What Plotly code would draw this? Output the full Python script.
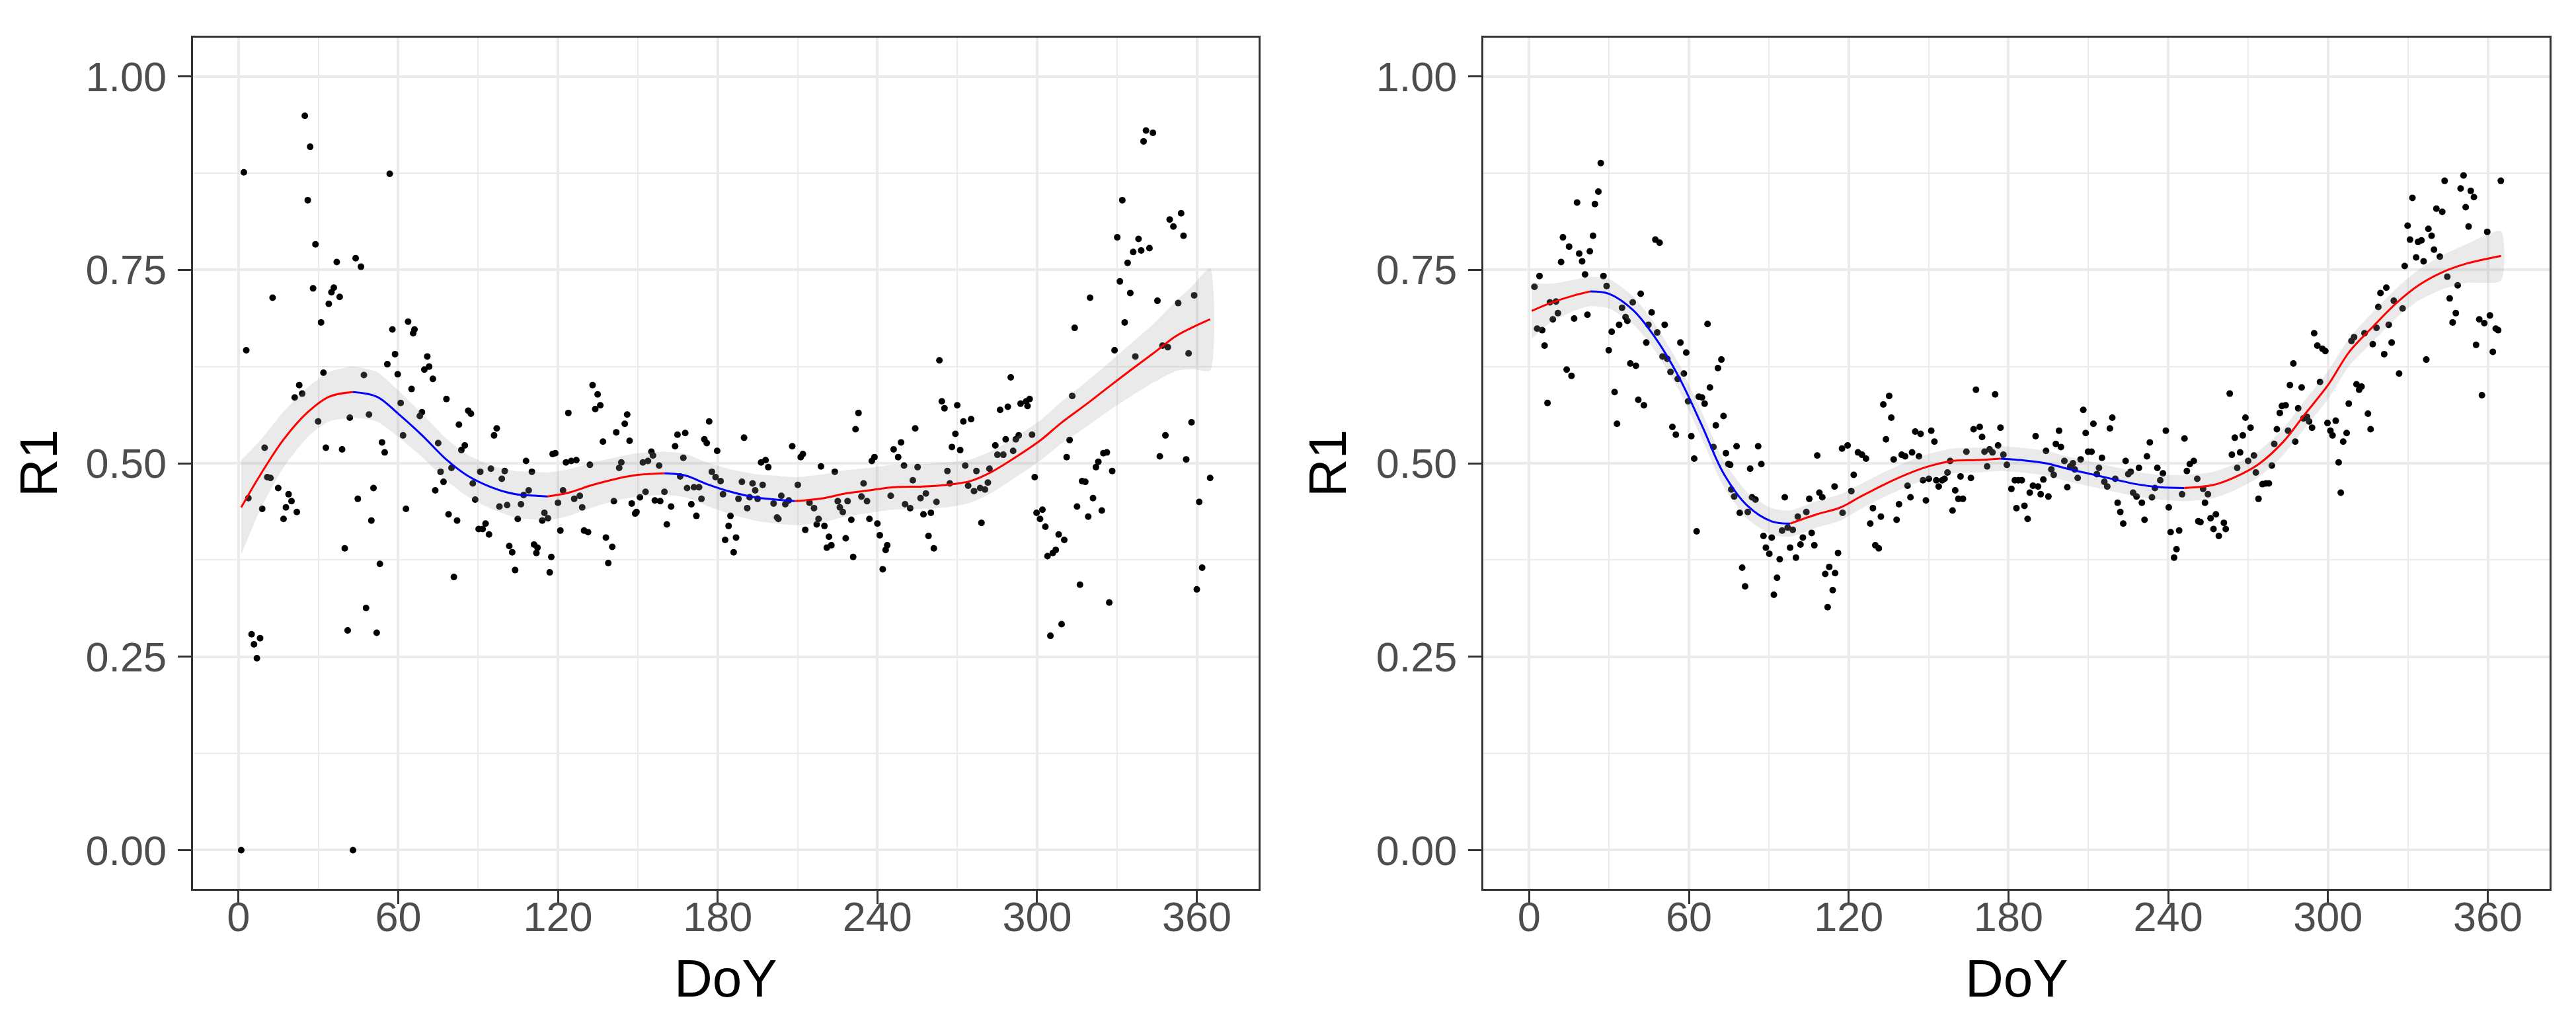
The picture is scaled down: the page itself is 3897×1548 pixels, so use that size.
import plotly.graph_objects as go

# ---- left panel: daily R1 values ----
left_doy = [
    1.0, 43.0, 24.9, 26.9, 2.0, 56.8, 26.0, 28.9, 36.9, 44.0,
    46.0, 28.0, 12.8, 35.8, 34.9, 38.0, 33.9, 31.0, 2.9, 31.9,
    57.8, 63.7, 66.1, 65.6, 58.8, 55.9, 59.8, 70.9, 71.6, 69.8,
    73.0, 47.1, 22.8, 23.9, 21.1, 65.0, 78.1, 60.9, 68.9, 68.1,
    86.3, 87.3, 41.8, 49.0, 29.9, 82.8, 97.0, 96.0, 61.8, 9.8,
    32.8, 38.9, 53.9, 54.9, 75.0, 85.0, 83.7, 75.9, 80.0, 77.0,
    73.9, 10.8, 12.0, 3.7, 8.9, 14.9, 18.8, 19.9, 17.8, 16.9,
    21.9, 50.7, 44.8, 49.9, 62.9, 78.9, 82.1, 90.8, 94.8, 100.0,
    98.9, 88.0, 88.9, 98.0, 100.9, 108.0, 110.2, 109.0, 107.1, 106.1,
    104.9, 114.9, 114.1, 116.2, 118.0, 92.8, 90.2, 91.7, 94.1, 101.7,
    102.8, 103.9, 111.0, 112.3, 111.9, 117.5, 116.9, 80.9, 39.9, 53.1,
    47.9, 41.0, 51.9, 4.9, 8.1, 5.8, 6.9,
    133.0, 134.9, 135.9, 134.0, 123.9, 146.0, 145.1, 141.9, 146.9, 136.9,
    119.0, 123.0, 125.0, 126.9, 132.0, 143.8, 143.0, 121.9, 120.0, 126.1,
    128.2, 129.1, 120.9, 129.8, 131.3, 141.0, 138.0, 140.4, 138.9, 147.7,
    149.5, 149.0, 150.8, 152.9, 151.9, 153.8, 155.1, 155.7, 158.0, 156.4,
    158.4, 160.0, 160.9, 162.5, 164.0, 164.9, 167.8, 167.1, 165.9, 168.5,
    171.1, 173.0, 170.1, 172.0, 173.9, 175.0, 175.9, 176.8, 179.8, 177.8,
    179.2, 181.1, 182.0, 184.8, 184.1, 182.8, 186.9, 186.0, 187.8, 189.1,
    189.9, 191.1, 192.0, 193.1, 194.1, 195.0, 196.9, 196.3, 198.0, 199.0,
    201.0, 202.3, 202.8, 203.9, 205.4, 206.7, 208.0, 210.1, 211.2, 212.0,
    212.9, 214.5, 216.2, 217.2, 217.9, 218.8, 220.1, 221.8, 222.7, 221.0,
    224.0, 225.1, 225.9, 227.0, 228.8, 228.1, 230.2, 230.9, 231.8, 232.9,
    234.8, 234.0, 236.1, 237.0, 237.9, 238.9, 240.0, 240.9, 243.1, 243.7,
    242.0, 245.0, 246.1, 247.8, 248.9, 250.0, 250.4,
    254.2, 255.1, 253.3, 252.3, 256.2, 258.2, 257.3, 260.1, 262.2, 259.2,
    261.2, 263.3, 264.2, 265.2, 270.0, 272.3, 275.2, 269.3, 268.0, 271.1,
    266.3, 267.2, 273.0, 274.1, 276.3, 277.2, 278.6, 280.4, 281.5, 282.1,
    279.1, 284.3, 285.1, 286.1, 289.0, 287.3, 288.2, 290.1, 291.0, 292.0,
    293.1, 293.8, 295.9, 297.2, 296.4, 298.1, 299.1, 299.8, 302.0, 301.1,
    303.1, 303.9, 305.9, 307.0, 308.1, 310.2, 305.0, 309.2, 311.1, 312.2,
    313.2, 314.1, 315.0, 316.9, 318.1, 319.2, 316.1, 319.9, 321.0, 322.1,
    323.0, 324.3, 324.9, 326.2, 327.1, 328.2, 329.1, 330.1, 331.1, 332.0,
    332.9, 334.0, 335.0, 336.1, 336.9, 338.1, 339.1, 340.0, 340.9, 342.2,
    343.5, 345.2, 346.1, 347.1, 348.2, 349.1, 349.8, 351.2, 353.0, 354.1,
    355.0, 356.0, 356.9, 358.0, 359.0, 360.0, 360.9, 362.0, 365.0,
]
left_r1 = [
    0.0, 0.0, .949, .909, .876, .874, .840, .783, .760, .765,
    .754, .726, .714, .727, .721, .715, .706, .682, .646, .617,
    .673, .683, .673, .668, .641, .628, .615, .638, .625, .621,
    .609, .614, .601, .590, .585, .596, .583, .578, .566, .561,
    .568, .564, .559, .563, .554, .550, .545, .536, .536, .520,
    .520, .518, .527, .514, .526, .523, .517, .489, .494, .476,
    .465, .482, .481, .455, .441, .468, .460, .451, .443, .428,
    .437, .468, .454, .426, .441, .434, .426, .489, .493, .490,
    .480, .474, .453, .444, .446, .503, .489, .465, .459, .447,
    .428, .436, .426, .429, .512, .422, .415, .415, .408, .393,
    .385, .362, .395, .391, .384, .379, .359, .353, .390, .370,
    .313, .284, .281, .279, .274, .266, .248,
    .601, .589, .575, .570, .565, .563, .551, .540, .529, .528,
    .513, .501, .503, .504, .498, .501, .494, .465, .449, .454,
    .458, .443, .413, .413, .411, .451, .404, .392, .371, .448,
    .437, .435, .456, .463, .501, .503, .515, .510, .497, .452,
    .451, .463, .421, .444, .522, .537, .539, .507, .483, .468,
    .469, .469, .447, .432, .454, .531, .526, .554, .516, .489,
    .482, .477, .460, .432, .419, .401, .404, .385, .454, .476,
    .533, .442, .456, .474, .465, .454, .472, .501, .504, .495,
    .448, .430, .428, .458, .447, .452, .522, .472, .508, .512,
    .414, .449, .442, .421, .428, .496, .419, .405, .394, .391,
    .489, .451, .443, .437, .451, .403, .427, .379, .544, .565,
    .474, .457, .451, .428, .503, .508, .422, .407, .388, .394,
    .363, .458, .518, .508, .527, .497, .447,
    .545, .495, .478, .442, .455, .461, .434, .436, .450, .406,
    .390, .633, .580, .571, .575, .554, .557, .538, .521, .517,
    .490, .474, .497, .471, .464, .490, .468, .466, .475, .493,
    .423, .523, .511, .569, .573, .511, .531, .611, .516, .531,
    .536, .577, .580, .583, .574, .537, .482, .436, .440, .428,
    .418, .380, .384, .388, .408, .401, .277, .292, .508, .530,
    .587, .675, .444, .477, .476, .431, .343, .714, .455, .495,
    .502, .439, .513, .514, .320, .490, .646, .792, .735, .840,
    .682, .759, .720, .773, .638, .790, .775, .916, .930, .778,
    .927, .710, .509, .652, .536, .650, .815, .806, .707, .823,
    .794, .505, .642, .553, .717, .337, .450, .365, .481,
]

# ---- right panel ----
right_doy = [
    26.9, 26.0, 18.0, 24.7, 12.7, 24.0, 15.0, 18.8, 22.8, 12.0,
    19.9, 21.0, 3.9, 27.9, 2.0, 29.1, 10.1, 7.8, 10.8, 8.9,
    16.9, 21.9, 3.0, 4.9, 5.8, 14.1, 15.9, 6.9, 41.9, 38.9,
    34.9, 36.2, 36.9, 33.8, 31.0, 29.9, 46.0, 44.8, 48.1, 50.9,
    44.0, 47.4, 49.0, 38.0, 40.1, 32.1, 41.0, 43.1, 33.0, 50.1,
    51.9, 56.8, 59.0, 53.1, 55.8, 58.1, 67.0, 72.2, 70.9, 67.9,
    63.7, 64.9, 65.9, 59.7, 73.0, 70.1, 53.8, 55.1, 60.9, 62.0,
    69.2, 73.9, 77.9, 86.0, 74.8, 75.5, 87.2, 83.0, 75.9, 77.0,
    83.7, 85.0, 79.1, 82.1, 62.9, 80.0, 81.1, 88.0, 91.1, 88.9,
    90.2, 94.1, 93.1, 91.9, 96.0, 95.0, 97.1, 99.0, 100.9, 104.1,
    105.2, 102.8, 101.9, 98.0, 100.2, 106.1, 107.1, 108.2, 109.0, 110.1,
    114.7, 117.5, 117.7, 116.0, 112.7, 111.2, 114.9, 114.0, 112.1,
    119.6, 121.0, 121.9, 123.5, 125.0, 126.5, 129.1, 128.1, 132.1, 130.0,
    131.3, 133.0, 135.2, 136.0, 134.0, 136.9, 138.9, 138.0, 139.9, 141.2,
    142.1, 143.2, 143.8, 145.0, 146.4, 147.0, 147.9, 149.0, 150.1, 151.0,
    152.2, 152.9, 153.8, 155.1, 156.0, 157.1, 158.1, 159.0, 160.0, 162.0,
    162.9, 161.2, 164.2, 165.9, 166.9, 169.2, 170.1, 167.8, 171.0, 172.0,
    172.9, 174.0, 175.0, 176.1, 177.0, 178.1, 179.4, 181.1, 182.4, 183.7,
    185.0, 183.0, 186.0, 187.2, 188.0, 189.2, 190.2, 191.1, 192.1, 193.1,
    194.1, 195.0, 196.1, 197.0, 197.8, 199.0, 199.7, 201.0, 202.1, 203.2,
    204.2, 204.9, 206.0, 207.1, 208.1, 209.0, 209.9, 211.2, 211.9, 213.2,
    214.0, 215.1, 216.0, 217.1, 218.1, 219.0, 220.1, 221.0, 222.0, 223.1,
    224.0, 225.0, 225.9, 226.8, 228.1, 229.0, 230.1, 231.1, 232.0, 233.1,
    233.9, 235.0, 235.9, 237.0, 238.0, 239.1, 240.2, 240.9, 242.2, 243.1,
    244.1, 245.2, 246.1, 247.0, 248.1, 249.6, 250.9, 251.3,
    253.1, 254.9, 253.8, 252.1, 255.9, 257.9, 257.0, 259.0, 260.9, 261.6,
    263.1, 263.9, 265.0, 265.9, 267.0, 268.0, 269.0, 270.0, 270.9, 272.2,
    272.9, 273.9, 275.4, 276.7, 277.8, 278.9, 279.8, 280.8, 281.9, 282.7,
    284.1, 285.0, 285.7, 287.0, 287.7, 288.8, 290.1, 290.8, 292.1, 292.9,
    294.0, 294.8, 296.0, 297.0, 297.9, 299.0, 299.8, 300.9, 301.7, 302.9,
    304.0, 304.8, 305.7, 307.0, 307.8, 308.8, 309.8, 310.7, 311.7, 312.6,
    313.7, 315.0, 316.0, 316.8, 318.2, 318.9, 319.7, 321.1, 321.9, 322.8,
    323.9, 324.7, 326.7, 328.0, 328.8, 329.9, 330.8, 331.7, 333.1, 333.8,
    335.1, 335.9, 336.9, 337.7, 338.9, 339.8, 340.7, 342.0, 342.9, 343.8,
    344.8, 345.7, 346.8, 348.0, 348.7, 349.8, 350.9, 351.7, 352.8, 353.6,
    354.8, 355.6, 356.8, 357.8, 358.7, 359.8, 360.8, 361.9, 363.0, 363.9,
    364.9,
]
right_r1 = [
    .888, .851, .837, .835, .792, .794, .780, .771, .774, .760,
    .761, .744, .742, .742, .728, .729, .709, .708, .694, .686,
    .687, .692, .674, .672, .652, .621, .613, .578, .719, .708,
    .701, .689, .684, .679, .670, .646, .695, .679, .669, .679,
    .656, .789, .785, .629, .626, .592, .582, .575, .551, .638,
    .635, .656, .643, .618, .609, .616, .680, .634, .623, .598,
    .586, .585, .577, .580, .561, .549, .547, .537, .535, .506,
    .521, .513, .522, .522, .499, .498, .499, .493, .466, .457,
    .456, .453, .436, .437, .412, .365, .341, .406, .404, .391,
    .383, .376, .352, .330, .456, .413, .417, .414, .431, .437,
    .454, .404, .395, .391, .378, .410, .394, .510, .462, .456,
    .470, .519, .436, .384, .366, .357, .358, .336, .314,
    .523, .464, .485, .514, .511, .506, .442, .422, .431, .394,
    .390, .576, .587, .559, .531, .505, .447, .427, .511, .509,
    .471, .456, .514, .541, .509, .538, .478, .452, .480, .542,
    .528, .478, .470, .478, .480, .488, .503, .439, .465, .483,
    .454, .454, .515, .481, .544, .547, .534, .595, .515, .496,
    .518, .514, .589, .523, .546, .511, .498, .467, .478, .478,
    .478, .442, .445, .428, .462, .471, .535, .470, .460, .479,
    .516, .457, .492, .485, .525, .542, .521, .503, .469, .496,
    .500, .492, .481, .505, .569, .539, .515, .515, .551, .486,
    .494, .507, .476, .470, .545, .559, .480, .449, .437, .422,
    .503, .486, .489, .462, .457, .494, .449, .427, .509, .527,
    .456, .468, .494, .478, .487, .542, .443, .411, .378, .389,
    .413, .460, .532, .490, .499, .503, .480, .425,
    .467, .460, .449, .424, .429, .434, .415, .406, .423, .415,
    .590, .511, .533, .494, .514, .536, .559, .503, .546, .510,
    .488, .454, .473, .474, .474, .497, .525, .544, .565, .574,
    .575, .542, .601, .629, .528, .571, .598, .558, .560, .554,
    .546, .668, .652, .605, .648, .645, .552, .542, .536, .555,
    .501, .462, .528, .539, .577, .658, .663, .602, .595, .599,
    .668, .564, .544, .654, .675, .702, .720, .641, .727, .679,
    .656, .710, .616, .700, .755, .807, .789, .843, .766, .786,
    .788, .761, .634, .803, .794, .776, .829, .767, .825, .865,
    .741, .713, .682, .694, .730, .855, .872, .831, .806, .852,
    .844, .653, .686, .588, .681, .799, .691, .644, .674, .672,
    .865,
]

# ---- smoothed fits and ribbon half widths ----
left_fit_doy = [1, 8, 17, 26, 34, 43, 52, 60, 69, 78, 86, 95, 104, 112, 116,
                124, 133, 142, 150, 160, 168, 176, 185, 194, 202, 209, 220,
                228, 237, 246, 257, 266, 275, 283, 292, 301, 309, 318, 327,
                335, 344, 352, 358, 365]
left_fit = [0.443, 0.484, 0.531, 0.566, 0.586, 0.592, 0.586, 0.564, 0.536,
            0.505, 0.484, 0.469, 0.460, 0.458, 0.457, 0.462, 0.472, 0.480,
            0.485, 0.487, 0.484, 0.473, 0.463, 0.456, 0.453, 0.451, 0.455,
            0.461, 0.465, 0.469, 0.470, 0.472, 0.477, 0.489, 0.508, 0.529,
            0.552, 0.575, 0.599, 0.620, 0.643, 0.664, 0.675, 0.686]
left_se = [0.061, 0.045, 0.036, 0.032, 0.032, 0.033, 0.032, 0.030, 0.028,
           0.027, 0.027, 0.028, 0.030, 0.031, 0.031, 0.030, 0.029, 0.028,
           0.028, 0.028, 0.028, 0.028, 0.029, 0.030, 0.031, 0.031, 0.031,
           0.030, 0.029, 0.029, 0.029, 0.029, 0.028, 0.027, 0.026, 0.026,
           0.027, 0.029, 0.031, 0.034, 0.038, 0.045, 0.053, 0.066]

right_fit_doy = [1, 8, 17, 23, 30, 39, 47, 56, 65, 73, 82, 91, 98, 108, 117,
                 124, 133, 142, 150, 159, 168, 177, 185, 194, 202, 211, 220,
                 228, 237, 246, 257, 265, 274, 283, 291, 300, 308, 317, 326,
                 334, 343, 352, 365]
right_fit = [0.697, 0.707, 0.717, 0.722, 0.719, 0.698, 0.664, 0.613, 0.548,
             0.487, 0.445, 0.425, 0.422, 0.434, 0.443, 0.456, 0.472, 0.486,
             0.496, 0.503, 0.504, 0.506, 0.504, 0.500, 0.493, 0.486, 0.479,
             0.473, 0.469, 0.468, 0.472, 0.482, 0.499, 0.527, 0.562, 0.601,
             0.644, 0.677, 0.708, 0.730, 0.747, 0.758, 0.768]
right_se = [0.036, 0.025, 0.020, 0.019, 0.019, 0.018, 0.017, 0.017, 0.017,
            0.017, 0.017, 0.017, 0.017, 0.017, 0.017, 0.016, 0.016, 0.016,
            0.016, 0.016, 0.016, 0.016, 0.016, 0.016, 0.016, 0.016, 0.016,
            0.016, 0.016, 0.017, 0.017, 0.017, 0.017, 0.017, 0.018, 0.018,
            0.018, 0.019, 0.019, 0.020, 0.022, 0.025, 0.032]

x_ticks = [0, 60, 120, 180, 240, 300, 360]
x_minor = [30, 90, 150, 210, 270, 330]
y_ticks = [0, 0.25, 0.5, 0.75, 1.0]
y_labels = ["0.00", "0.25", "0.50", "0.75", "1.00"]
y_minor = [0.125, 0.375, 0.625, 0.875]

W, H = 3897, 1548
FONT = "Liberation Sans, Arial, sans-serif"


def split_runs(xs, ys):
    # cut the fitted curve where it turns, so rises and falls get own colours
    runs, start = [], 0
    for i in range(1, len(xs) - 1):
        if (ys[i] - ys[i - 1]) * (ys[i + 1] - ys[i]) < 0:
            runs.append((start, i))
            start = i
    runs.append((start, len(xs) - 1))
    return runs


def add_panel(fig, xref, yref, doy, r1, fdoy, fit, se):
    fig.add_trace(go.Scatter(
        x=doy, y=r1, mode="markers", xaxis=xref, yaxis=yref,
        marker=dict(color="black", size=10, line=dict(width=0)),
        hoverinfo="skip"))
    upper = [f + s for f, s in zip(fit, se)]
    lower = [f - s for f, s in zip(fit, se)]
    fig.add_trace(go.Scatter(
        x=fdoy + fdoy[::-1], y=upper + lower[::-1], xaxis=xref, yaxis=yref,
        mode="lines", fill="toself", fillcolor="rgba(160,160,160,0.22)",
        line=dict(width=0, shape="spline", smoothing=0.6), hoverinfo="skip"))
    for a, b in split_runs(fdoy, fit):
        col = "#FF0000" if fit[b] > fit[a] else "#0000FF"
        fig.add_trace(go.Scatter(
            x=fdoy[a:b + 1], y=fit[a:b + 1], mode="lines",
            xaxis=xref, yaxis=yref,
            line=dict(color=col, width=3, shape="spline", smoothing=1),
            hoverinfo="skip"))


fig = go.Figure()
add_panel(fig, "x", "y", left_doy, left_r1, left_fit_doy, left_fit, left_se)
add_panel(fig, "x2", "y2", right_doy, right_r1, right_fit_doy, right_fit, right_se)

common = dict(
    showgrid=True, gridcolor="#EBEBEB", gridwidth=4, zeroline=False,
    showline=True, mirror=True, linecolor="#333333", linewidth=3,
    ticks="outside", ticklen=20, tickwidth=3, tickcolor="#333333",
    tickfont=dict(family=FONT, size=63, color="#4D4D4D"), automargin=False,
)
xaxis = dict(common, range=[-17.2, 383.2], tickvals=x_ticks,
             ticklabelstandoff=-35,
             minor=dict(tickvals=x_minor, showgrid=True, gridcolor="#EBEBEB",
                        gridwidth=2, ticks=""))
yaxis = dict(common, range=[-0.05, 1.05], tickvals=y_ticks, ticktext=y_labels,
             ticklabelstandoff=4,
             minor=dict(tickvals=y_minor, showgrid=True, gridcolor="#EBEBEB",
                        gridwidth=2, ticks=""))

dom_left = [283.6 / W, 1896 / W]
dom_right = [2236 / W, 3849 / W]
dom_y = [(H - 1337) / H, (H - 49) / H]

fig.update_layout(
    width=W, height=H, margin=dict(l=0, r=0, t=0, b=0),
    paper_bgcolor="white", plot_bgcolor="white", showlegend=False,
    font=dict(family=FONT),
    xaxis=dict(xaxis, domain=dom_left, anchor="y"),
    yaxis=dict(yaxis, domain=dom_y, anchor="x"),
    xaxis2=dict(xaxis, domain=dom_right, anchor="y2"),
    yaxis2=dict(yaxis, domain=dom_y, anchor="x2"),
)

title_font = dict(family=FONT, size=80, color="black")
for dom, ylab_x in [(dom_left, 50 / W), (dom_right, 2000 / W)]:
    fig.add_annotation(text="DoY", xref="paper", yref="paper",
                       x=(dom[0] + dom[1]) / 2, y=(H - 1472) / H,
                       xanchor="center", yanchor="middle", showarrow=False,
                       font=title_font)
    fig.add_annotation(text="R1", xref="paper", yref="paper",
                       x=ylab_x, y=(H - 693) / H, textangle=-90,
                       xanchor="center", yanchor="middle", showarrow=False,
                       font=title_font)

fig.write_html("out.html")
